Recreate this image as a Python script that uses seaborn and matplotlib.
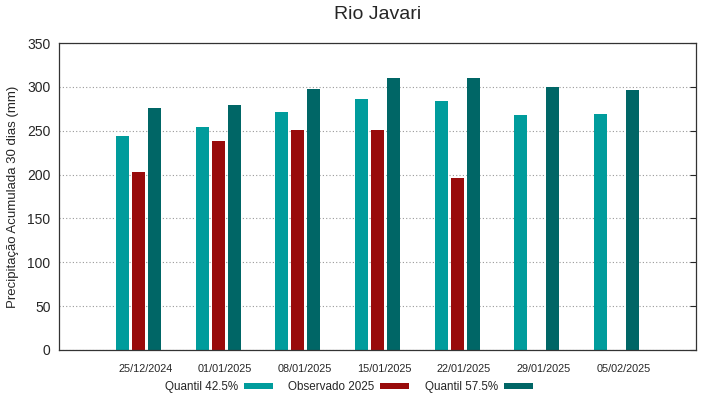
import numpy as np
import pandas as pd
import seaborn as sns
import matplotlib
matplotlib.use("Agg")
import matplotlib.pyplot as plt
import matplotlib.transforms as mtransforms

# Data
datas = ["25/12/2024", "01/01/2025", "08/01/2025", "15/01/2025",
         "22/01/2025", "29/01/2025", "05/02/2025"]
quantil_425 = [244, 254, 271, 286, 284, 268, 269]
observado_2025 = [203, 238, 251, 251, 196, np.nan, np.nan]
quantil_575 = [276, 279, 298, 310, 310, 300, 297]

series = ["Quantil 42.5%", "Observado 2025", "Quantil 57.5%"]
cores = ["#009c9c", "#990b0b", "#006666"]

df = pd.DataFrame({
    "data": datas * 3,
    "serie": [series[0]] * 7 + [series[1]] * 7 + [series[2]] * 7,
    "valor": quantil_425 + observado_2025 + quantil_575,
})

sns.set_style("white")
plt.rcParams["font.family"] = ["Liberation Sans", "DejaVu Sans"]

fig, ax = plt.subplots(figsize=(7.19, 3.99), dpi=100)
fig.subplots_adjust(left=0.082, right=0.968, top=0.892, bottom=0.123)

sns.barplot(data=df, x="data", y="valor", hue="serie", order=datas,
            hue_order=series, palette=cores, width=0.6, gap=0.18,
            saturation=1, edgecolor="none", ax=ax)

ax.set_xlim(-1, 7)
ax.set_ylim(0, 350)
ax.set_yticks(range(0, 351, 50))
ax.tick_params(axis="y", labelsize=10, left=False, right=True,
               direction="in", length=4, pad=6, labelleft=True)
ax.tick_params(axis="x", labelsize=7.8, length=0, pad=10)
# labels in the reference sit a bit to the right of each group
offset = mtransforms.ScaledTranslation(0.07, 0, fig.dpi_scale_trans)
for lbl in ax.get_xticklabels():
    lbl.set_transform(lbl.get_transform() + offset)

ax.yaxis.grid(True, linestyle=(0, (1, 2)), color="#999999", linewidth=0.8)
ax.set_axisbelow(True)
for s in ax.spines.values():
    s.set_color("#333333")
    s.set_linewidth(0.9)

ax.set_xlabel("")
ax.set_ylabel("Precipitação Acumulada 30 dias (mm)", fontsize=9.5, labelpad=6)
ax.set_title("Rio Javari", fontsize=14, pad=17)

handles, labels = ax.get_legend_handles_labels()
ax.legend(handles, labels, loc="center", bbox_to_anchor=(0.455, -0.122),
          ncol=3, frameon=False, markerfirst=False, fontsize=8.4,
          handlelength=2.5, handleheight=0.45, columnspacing=1.3,
          handletextpad=0.5)

fig.savefig("out.png", dpi=100)
